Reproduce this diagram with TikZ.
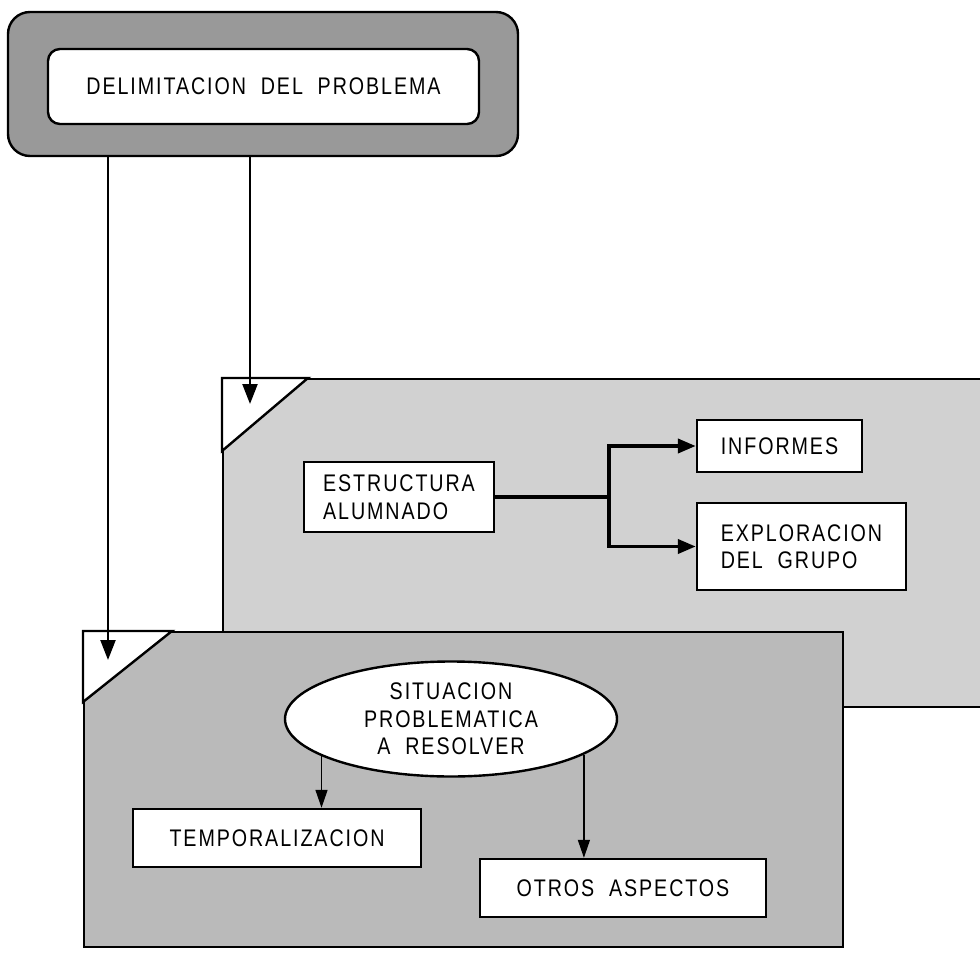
\documentclass[tikz,border=0pt]{standalone}
\usepackage{fontspec}
\setmainfont{Liberation Sans}[FakeStretch=0.82, LetterSpace=8, WordSpace=2]
\usetikzlibrary{arrows.meta,shapes.geometric}

\definecolor{framegray}{gray}{0.60}
\definecolor{uppergray}{gray}{0.82}
\definecolor{lowergray}{gray}{0.73}

\begin{document}
\begin{tikzpicture}[x=1pt,y=-1pt,
  lbl/.style={font=\fontsize{24}{27.5}\selectfont},
  box/.style={draw, line width=2.4pt, fill=white, inner sep=0pt, lbl},
  panel/.style={draw, line width=2.4pt, inner sep=0pt, anchor=north west},
  cut/.style={draw, line width=2.4pt, fill=white, line join=miter},
  drop/.style={line width=2.2pt, -{Triangle[length=20pt,width=15pt]}},
  fork/.style={line width=3.8pt, -{Triangle[length=18pt,width=14pt]}},
  branch/.style={line width=1.5pt, -{Triangle[length=18pt,width=12pt]}}
]
\useasboundingbox (0,0) rectangle (980,955);
\fill[white] (0,0) rectangle (980,955);
\clip (0,0) rectangle (980,955);

% title frame
\node[draw, line width=2.4pt, fill=framegray, rounded corners=22pt,
      minimum width=510pt, minimum height=144pt] (outer) at (263,84) {};
\node[box, rounded corners=12pt, minimum width=431pt, minimum height=75pt]
      (delim) at (263.5,86.5) {DELIMITACION DEL PROBLEMA};

% upper panel with its cut corner
\node[panel, fill=uppergray, minimum width=800pt, minimum height=328pt] (upper) at (222,378) {};
\filldraw[cut] (upper.north west) -- ++(86,0) -- ++(-86,73) -- cycle;

% lower panel with its cut corner
\node[panel, fill=lowergray, minimum width=759pt, minimum height=315pt] (lower) at (83,631) {};
\filldraw[cut] (lower.north west) -- ++(89,0) -- ++(-89,71) -- cycle;

% drops from the title frame into the panels
\coordinate (tipU) at (250,404);
\coordinate (tipL) at (108,660);
\draw[drop] (outer.south -| tipL) -- (tipL);
\draw[drop] (outer.south -| tipU) -- (tipU);

% upper panel contents
\node[box, minimum width=190pt, minimum height=70pt, align=left]
      (estr) at (399,497) {ESTRUCTURA\\ALUMNADO};
\node[box, minimum width=165pt, minimum height=52pt] (inf) at (779.5,446) {INFORMES};
\node[box, minimum width=209pt, minimum height=87pt, align=left]
      (expl) at (801.5,546.5) {EXPLORACION\\DEL GRUPO};

\coordinate (split) at (609,497);
\draw[line width=3.8pt] (estr.east) -- (split);
\draw[fork] (split) |- (inf.west);
\draw[fork] (split) |- (expl.west);

% lower panel contents
\node[draw, line width=2.4pt, fill=white, ellipse, inner sep=0pt, lbl, align=center,
      minimum width=332pt, minimum height=115pt] (sit) at (451,719)
      {SITUACION\\PROBLEMATICA\\A RESOLVER};
\node[box, minimum width=288pt, minimum height=58pt] (temp) at (277,838) {TEMPORALIZACION};
\node[box, minimum width=286pt, minimum height=58pt] (otros) at (623,888) {OTROS ASPECTOS};

\draw[branch] (sit.196) -- (sit.196 |- temp.north);
\draw[branch] (sit.345) -- (sit.345 |- otros.north);
\end{tikzpicture}
\end{document}
